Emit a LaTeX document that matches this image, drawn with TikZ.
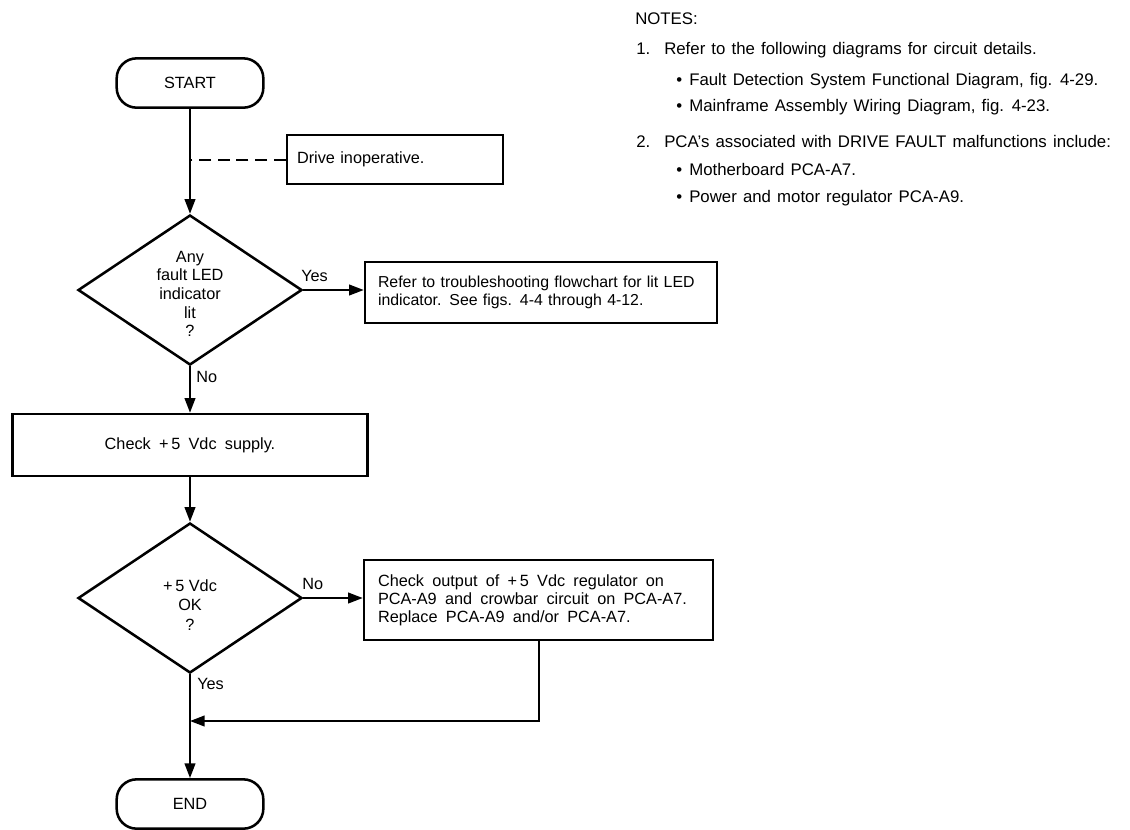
\documentclass[tikz,border=0pt]{standalone}
\usepackage{fontspec}
\setmainfont{Liberation Sans}
\usetikzlibrary{arrows.meta,shapes.geometric}
\newcommand\wideWS{\spaceskip=6.2pt plus 1pt\relax}
\newcommand\noteWS{\spaceskip=4.6pt plus 1pt minus 1pt\relax}
\begin{document}
\begin{tikzpicture}[x=0.75pt,y=-0.75pt,
  every node/.style={font=\fontsize{12.2}{14}\selectfont},
  conn/.style={line width=1.5pt},
  arr/.style={line width=1.5pt,-{Triangle[length=11pt,width=8pt]}},
  term/.style={draw,line width=1.9pt,rounded corners=15pt,minimum width=110pt,minimum height=37pt,inner sep=0pt},
  procbox/.style={draw,line width=1.9pt,inner ysep=0pt},
  decision/.style={draw,diamond,line width=1.9pt,minimum width=168pt,minimum height=112.5pt,inner sep=0pt,shape aspect=1.49},
  lbl/.style={inner sep=0pt,anchor=west},
  note/.style={inner sep=0pt,anchor=base west,font={\fontsize{12.6}{14}\selectfont\noteWS}},
  dtext/.style={inner sep=0pt,align=center}
]
\useasboundingbox (0,0) rectangle (1130,829);

% main column
\node[term] (start) at (190,83) {START};
\node[procbox,minimum width=162pt,minimum height=36.75pt,inner xsep=7.5pt,text width=147pt,align=left] (drive) at (395,159.5) {Drive inoperative.};
\node[decision] (d1) at (190,290) {};
\node[dtext,font={\fontsize{12.2}{14}\selectfont}] (d1t) at (190,294) {Any\\fault LED\\indicator\\lit\\?};
\node[procbox,minimum width=264pt,minimum height=45.75pt,inner xsep=9.75pt,text width=244.5pt,align=left,font={\fontsize{11.9}{14}\selectfont}] (refer) at (541,292.5) {Refer to troubleshooting flowchart for lit LED\\indicator. See figs. 4-4 through 4-12.};
\node[procbox,minimum width=266.25pt,minimum height=46.5pt,font={\fontsize{12.2}{14}\selectfont\wideWS}] (check) at (190,445) {Check +\,5 Vdc supply.};
\node[decision] (d2) at (190,598) {};
\node[dtext,font={\fontsize{12.2}{14.6}\selectfont}] (d2t) at (190,605) {+\,5 Vdc\\OK\\?};
\node[procbox,minimum width=261.75pt,minimum height=60pt,inner xsep=10.5pt,text width=240.75pt,align=left,font={\fontsize{12.2}{13.4}\selectfont}] (out) at (538.5,600) {\wideWS Check output of +\,5 Vdc regulator on\\PCA-A9 and crowbar circuit on PCA-A7.\\Replace PCA-A9 and/or PCA-A7.};
\node[term] (end) at (190,804) {END};

% labels
\node[lbl] (yes1) at (301,276) {Yes};
\node[lbl] (no1) at (196,377) {No};
\node[lbl] (no2) at (302,584) {No};
\node[lbl] (yes2) at (197,684) {Yes};

% connectors
\draw[arr] (start.south) -- (d1.north);
\draw[conn,dash pattern=on 9pt off 5pt] (drive.west) -- (drive.west -| start.south);
\draw[arr] (d1.east) -- (d1.east -| refer.west);
\draw[arr] (d1.south) -- (check.north);
\draw[arr] (check.south) -- (d2.north);
\draw[arr] (d2.east) -- (d2.east -| out.west);
\coordinate (merge) at (190,721);
\draw[arr] (out.south) |- (merge);
\draw[arr] (d2.south) -- (end.north);

% notes (baselines)
\node[note] (notes) at (635,24) {NOTES:};
\node[note] (n1) at (636,54) {1.};
\node[note] (n1t) at (664,54) {Refer to the following diagrams for circuit details.};
\node[note] (b1) at (676,85) {•};
\node[note] (b1t) at (689,85) {Fault Detection System Functional Diagram, fig. 4-29.};
\node[note] (b2) at (676,111) {•};
\node[note] (b2t) at (689,111) {Mainframe Assembly Wiring Diagram, fig. 4-23.};
\node[note] (n2) at (636,147) {2.};
\node[note] (n2t) at (664,147) {PCA's associated with DRIVE FAULT malfunctions include:};
\node[note] (b3) at (676,175) {•};
\node[note] (b3t) at (689,175) {Motherboard PCA-A7.};
\node[note] (b4) at (676,202) {•};
\node[note] (b4t) at (689,202) {Power and motor regulator PCA-A9.};
\end{tikzpicture}
\end{document}
